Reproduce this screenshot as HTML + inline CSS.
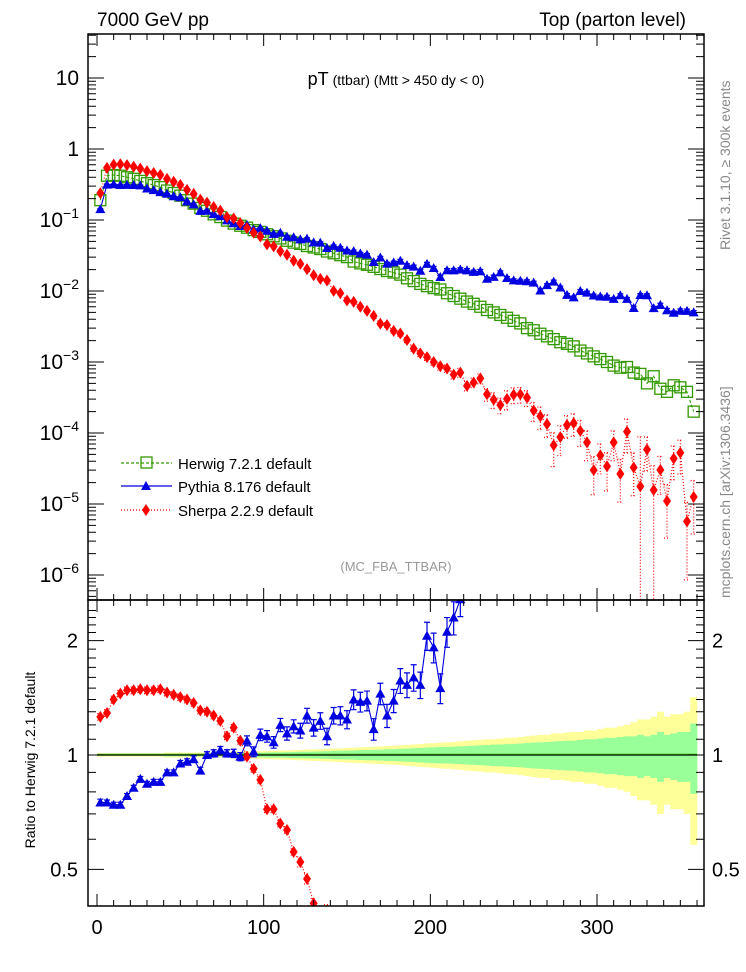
<!DOCTYPE html>
<html><head><meta charset="utf-8">
<style>
html,body{margin:0;padding:0;background:#fff;width:746px;height:972px;overflow:hidden;}
svg{display:block;font-family:"Liberation Sans",Arial,sans-serif;}
</style></head>
<body>
<svg id="chart" width="746" height="972" viewBox="0 0 746 972" xmlns="http://www.w3.org/2000/svg" overflow="hidden">
<defs>
<clipPath id="clipMain"><rect x="88" y="34" width="616" height="566"/></clipPath>
<clipPath id="clipRatio"><rect x="88" y="600" width="616" height="306"/></clipPath>
</defs>
<rect x="0" y="0" width="746" height="972" fill="#fff"/>
<text x="97" y="26" font-size="19">7000 GeV pp</text>
<text x="686" y="26" font-size="19" text-anchor="end">Top (parton level)</text>
<text x="396" y="85" text-anchor="middle"><tspan font-size="18">pT</tspan><tspan font-size="14"> (ttbar) (Mtt &gt; 450 dy &lt; 0)</tspan></text>
<text transform="translate(730,250) rotate(-90)" font-size="14" fill="#888">Rivet 3.1.10, ≥ 300k events</text>
<text transform="translate(730,598) rotate(-90)" font-size="14" fill="#888">mcplots.cern.ch [arXiv:1306.3436]</text>
<text x="396" y="571" font-size="13" fill="#999" text-anchor="middle">(MC_FBA_TTBAR)</text>
<text transform="translate(35,760) rotate(-90)" font-size="14" text-anchor="middle">Ratio to Herwig 7.2.1 default</text>
<g id="bands" clip-path="url(#clipRatio)"></g>
<g id="ratioMarks" clip-path="url(#clipRatio)"></g>
<g id="mainMarks" clip-path="url(#clipMain)"></g>
<g id="axes"></g>
<g id="legend">
  <line x1="121" y1="463" x2="172" y2="463" stroke="#339900" stroke-width="1.2" stroke-dasharray="3,2"/>
  <rect x="141" y="457" width="11" height="11" fill="none" stroke="#339900" stroke-width="1.3"/>
  <text x="178" y="469" font-size="15">Herwig 7.2.1 default</text>
  <line x1="121" y1="486" x2="172" y2="486" stroke="#0000e0" stroke-width="1.2"/>
  <polygon points="146,481 151,490 141,490" fill="#0000e0"/>
  <text x="178" y="492" font-size="15">Pythia 8.176 default</text>
  <line x1="121" y1="510" x2="172" y2="510" stroke="#ff0000" stroke-width="1.2" stroke-dasharray="1,2"/>
  <polygon points="146,504 150,510 146,516 142,510" fill="#ff0000"/>
  <text x="178" y="516" font-size="15">Sherpa 2.2.9 default</text>
</g>
</svg>
<script>
// ---- data ----
const binWidth = 4;
const herwig = [.19,.42,.43,.42,.40,.38,.355,.33,.31,.29,
.26,.24,.22,.19,.17,.148,.135,.12,.11,.098,
.089,.083,.078,.072,.068,.063,.059,.055,.051,.048,
.046,.043,.041,.039,.036,.034,.032,.030,.026,.0245,
.0234,.0219,.0204,.0191,.0182,.0170,.0151,.0138,.0126,.0117,
.0110,.0105,.0093,.0085,.0078,.0071,.0066,.0060,.0054,.0050,
.0046,.0042,.0038,.0035,.0030,.0028,.0025,.0023,.0021,.0019,
.0018,.00166,.00145,.00132,.0012,.0011,.0010,.00089,.00083,.00085,
.00071,.00068,.0005,.00063,.00042,.00038,.00047,.00044,.00038,.0002];
const pythiaRatio = [.75,.75,.74,.74,.78,.82,.865,.84,.85,.85,
.90,.90,.95,.96,.975,.91,1.0,1.01,1.03,1.01,
1.01,.99,1.09,1.02,1.13,1.12,1.08,1.2,1.14,1.19,
1.16,1.27,1.18,1.23,1.12,1.27,1.27,1.24,1.40,1.38,
1.39,1.17,1.45,1.27,1.39,1.57,1.53,1.60,1.53,2.06,
1.92,1.50,2.11,2.3,2.57,2.75,2.82,3.16,2.75,3.16,
3.98,3.63,3.72,3.98,4.57,4.68,4.07,5.25,6.46,5.89,
4.9,4.9,6.9,7.2,7.2,7.6,8.3,8.7,10.5,9.1,
8.1,12.9,17.4,9.1,15.1,14.1,10.5,12.0,13.8,25];
const sherpaRatio = [1.26,1.29,1.40,1.45,1.48,1.48,1.49,1.48,1.48,1.49,
1.46,1.44,1.42,1.40,1.37,1.31,1.30,1.27,1.23,1.12,
1.18,1.09,.99,.92,.86,.72,.72,.66,.635,.556,
.523,.472,.407,.38,.39,.295,.29,.245,.27,.245,
.224,.204,.17,.174,.151,.148,.135,.112,.105,.10,
.091,.083,.087,.078,.091,.065,.078,.098,.065,.059,
.054,.072,.091,.10,.105,.074,.069,.058,.032,.046,
.072,.083,.074,.056,.025,.044,.034,.083,.032,.123,
.046,.026,.117,.025,.072,.029,.093,.12,.015,.063];
const pythiaErr = [.02,.015,.015,.015,.015,.015,.015,.015,.015,.015,
.015,.015,.018,.018,.02,.02,.02,.022,.022,.022,
.025,.025,.03,.03,.035,.035,.035,.04,.04,.04,
.045,.045,.05,.05,.05,.05,.055,.055,.06,.06,
.06,.065,.065,.07,.07,.075,.075,.08,.08,.085,
.09,.09,.09,.1,.1,.1,.1,.1,.1,.1,
.08,.08,.08,.08,.08,.08,.08,.08,.08,.08,
.08,.08,.08,.08,.08,.08,.08,.08,.08,.08,
.1,.08,.08,.1,.1,.1,.1,.1,.1,.1];
const sherpaErr = [.02,.02,.02,.02,.02,.02,.02,.02,.02,.02,
.02,.02,.02,.02,.02,.02,.02,.02,.02,.02,
.02,.02,.02,.02,.02,.02,.02,.02,.02,.02,
.03,.03,.03,.035,.035,.04,.04,.045,.045,.05,
.05,.06,.06,.07,.07,.08,.08,.09,.1,.1,
.1,.12,.12,.13,.14,.15,.15,.16,.2,.25,
.25,.3,.25,.25,.25,.3,.35,.35,.5,.45,
.35,.35,.4,.45,.55,.45,.55,.45,.6,.5,
.6,4,.5,1.2,.55,.7,.5,.5,.85,.7];
const greenBand = [.005,.005,.005,.005,.005,.005,.005,.005,.005,.005,
.008,.008,.008,.008,.008,.008,.008,.008,.008,.008,
.012,.012,.013,.013,.014,.015,.016,.016,.017,.018,
.02,.02,.021,.022,.023,.025,.026,.027,.028,.03,
.031,.032,.033,.035,.036,.038,.04,.042,.044,.046,
.048,.05,.05,.052,.054,.056,.058,.06,.062,.065,
.066,.068,.07,.072,.075,.078,.08,.082,.085,.088,
.09,.09,.095,.1,.1,.105,.11,.11,.115,.12,
.12,.13,.12,.13,.15,.13,.14,.15,.15,.21];
const yellowBand = [.01,.01,.01,.01,.01,.01,.01,.01,.01,.01,
.015,.015,.015,.015,.015,.015,.015,.015,.015,.015,
.02,.02,.022,.022,.024,.025,.026,.027,.028,.03,
.032,.033,.035,.036,.038,.04,.042,.044,.046,.048,
.05,.052,.054,.056,.058,.06,.063,.066,.069,.072,
.075,.078,.08,.083,.086,.09,.093,.096,.1,.1,
.105,.11,.11,.115,.12,.125,.13,.13,.14,.14,
.145,.15,.15,.16,.16,.17,.18,.18,.19,.2,
.22,.24,.24,.26,.3,.26,.28,.28,.3,.42];
const xTickLabels = ["0","100","200","300"];
const mainTickExps = [1,0,-1,-2,-3,-4,-5,-6];
const ratioTickLabels = ["0.5","1","2"];

// ---- axes functions ----
const NS = "http://www.w3.org/2000/svg";
const L = 88, R = 704, TOP = 34, MID = 600, BOT = 906;
const X = p => 97 + p * 1.6667;
const Ym = v => 149 - 71 * Math.log10(v);
const Yr = r => 755 - 380 * Math.log10(r);
const clampY = (y, lo, hi) => Math.min(hi, Math.max(lo, y));
function el(tag, attrs, parent) {
  const e = document.createElementNS(NS, tag);
  for (const k in attrs) e.setAttribute(k, attrs[k]);
  parent.appendChild(e);
  return e;
}
const centers = herwig.map((_, i) => binWidth * i + binWidth / 2);
const pythia = herwig.map((h, i) => h * pythiaRatio[i]);
const sherpa = herwig.map((h, i) => h * sherpaRatio[i]);

const gB = document.getElementById('bands');
const gR = document.getElementById('ratioMarks');
const gM = document.getElementById('mainMarks');
const gA = document.getElementById('axes');

// bands
centers.forEach((c, i) => {
  const y = el('rect', {x: X(c - 2), y: Yr(1 + yellowBand[i]), width: X(c + 2) - X(c - 2) + 0.3, height: Yr(1 - yellowBand[i]) - Yr(1 + yellowBand[i]), fill: '#ffff99'}, gB);
  
  
});
centers.forEach((c, i) => {
  const g = el('rect', {x: X(c - 2), y: Yr(1 + greenBand[i]), width: X(c + 2) - X(c - 2) + 0.3, height: Yr(1 - greenBand[i]) - Yr(1 + greenBand[i]), fill: '#99ff99'}, gB);
  
  
});
const refLine = el('line', {x1: X(0), y1: Yr(1), x2: X(centers[centers.length - 1] + 2), y2: Yr(1), stroke: '#000', 'stroke-width': 1.2}, gB);


const refGreen = el('line', {x1: X(0), y1: Yr(1) - 0.8, x2: X(centers[centers.length - 1] + 2), y2: Yr(1) - 0.8, stroke: '#339900', 'stroke-width': 0.8}, gB);



function tri(cx, cy, g) {
  return el('polygon', {points: `${cx},${cy - 5} ${cx + 5},${cy + 4} ${cx - 5},${cy + 4}`, fill: '#0000e0'}, g);
}
function dia(cx, cy, g) {
  return el('polygon', {points: `${cx},${cy - 6} ${cx + 4},${cy} ${cx},${cy + 6} ${cx - 4},${cy}`, fill: '#ff0000'}, g);
}
function errBar(x, y1, y2, color, dash, g, lo, hi) {
  const a = clampY(y1, lo, hi), b = clampY(y2, lo, hi);
  const e = el('path', {d: `M${x},${a}V${b}M${x - 3},${a}H${x + 3}M${x - 3},${b}H${x + 3}`, stroke: color, 'stroke-width': 1.2, fill: 'none'}, g);
  if (dash) e.setAttribute('stroke-dasharray', '1,2');
  return e;
}
const clampPts = (arr, f, lo, hi) => centers.map((c, i) => `${X(c)},${clampY(f(arr[i]), lo - 400, hi + 400)}`).join(' ');

// ratio lines
const pyRatioLine = el('polyline', {points: centers.map((c, i) => `${X(c)},${Math.max(Yr(pythiaRatio[i]), MID - 300)}`).join(' '), fill: 'none', stroke: '#0000e0', 'stroke-width': 1.1}, gR);


const shRatioLine = el('polyline', {points: centers.map((c, i) => `${X(c)},${Math.min(Yr(sherpaRatio[i]), BOT + 60)}`).join(' '), fill: 'none', stroke: '#ff0000', 'stroke-width': 1.2, 'stroke-dasharray': '1,2'}, gR);


centers.forEach((c, i) => {
  const r = pythiaRatio[i], e = pythiaErr[i];
  if (Yr(r) > MID - 10 && Yr(r) < BOT + 10) {
    const eb = errBar(X(c), Yr(r * (1 + e)), Yr(r * (1 - e)), '#0000e0', false, gR, MID, BOT);
    
    
    const m = tri(X(c), Yr(r), gR);
    
    
  }
  const s = sherpaRatio[i], se = sherpaErr[i];
  if (Yr(s) > MID - 10 && Yr(s) < BOT + 10) {
    const eb2 = errBar(X(c), Yr(s * (1 + se)), Yr(Math.max(s * (1 - se), 1e-3)), '#ff0000', true, gR, MID, BOT);
    
    
    const d = dia(X(c), Yr(s), gR);
    
    
  }
});

// main plot
const hwLine = el('polyline', {points: centers.map((c, i) => `${X(c)},${Ym(herwig[i])}`).join(' '), fill: 'none', stroke: '#339900', 'stroke-width': 1.1, 'stroke-dasharray': '3,2'}, gM);


const pyLine = el('polyline', {points: centers.map((c, i) => `${X(c)},${Ym(pythia[i])}`).join(' '), fill: 'none', stroke: '#0000e0', 'stroke-width': 1.1}, gM);


const shLine = el('polyline', {points: centers.map((c, i) => `${X(c)},${Math.min(Ym(sherpa[i]), MID)}`).join(' '), fill: 'none', stroke: '#ff0000', 'stroke-width': 1.2, 'stroke-dasharray': '1,2'}, gM);


centers.forEach((c, i) => {
  const sq = el('rect', {x: X(c) - 5.5, y: Ym(herwig[i]) - 5.5, width: 11, height: 11, fill: 'none', stroke: '#339900', 'stroke-width': 1.3}, gM);
  
  
});
centers.forEach((c, i) => {
  const eb = errBar(X(c), Ym(pythia[i] * (1 + pythiaErr[i] * 0.6)), Ym(pythia[i] * (1 - pythiaErr[i] * 0.6)), '#0000e0', false, gM, TOP, MID);
  
  
  const m = tri(X(c), Ym(pythia[i]), gM);
  
  
});
centers.forEach((c, i) => {
  const v = sherpa[i], e = sherpaErr[i];
  const eb = errBar(X(c), Ym(v * (1 + e)), Ym(Math.max(v * (1 - e), 1e-9)), '#ff0000', true, gM, TOP, MID);
  
  
  const d = dia(X(c), Ym(v), gM);
  
  
});

// frames
const f1 = el('rect', {x: L, y: TOP, width: R - L, height: MID - TOP, fill: 'none', stroke: '#000', 'stroke-width': 1.5}, gA);


const f2 = el('rect', {x: L, y: MID, width: R - L, height: BOT - MID, fill: 'none', stroke: '#000', 'stroke-width': 1.5}, gA);



// x ticks
let d = '';
for (let p = 0; p <= 360; p += 10) {
  const len = p % 100 === 0 ? 12 : 6;
  const x = X(p);
  d += `M${x},${MID}v${-len}M${x},${TOP}v${len}M${x},${BOT}v${-len}M${x},${MID}v${len}`;
}
const xt = el('path', {d: d, stroke: '#000', 'stroke-width': 1, fill: 'none'}, gA);


xTickLabels.forEach(t => {
  const tx = el('text', {x: X(+t), y: 934, 'font-size': 20, 'text-anchor': 'middle'}, gA);
  tx.textContent = t;
  
  
});

// main y ticks
d = '';
for (let e = -7; e <= 1; e++) {
  for (let m = 1; m <= 9; m++) {
    const y = Ym(m * Math.pow(10, e));
    if (y < TOP || y > MID) continue;
    const len = m === 1 ? 16 : 8;
    d += `M${L},${y}h${len}M${R},${y}h${-len}`;
  }
}
const yt = el('path', {d: d, stroke: '#000', 'stroke-width': 1, fill: 'none'}, gA);


mainTickExps.forEach(e => {
  const y = Ym(Math.pow(10, e));
  const tx = el('text', {x: 79, y: y + 7, 'font-size': 21, 'text-anchor': 'end'}, gA);
  if (e === 1) tx.textContent = '10';
  else if (e === 0) tx.textContent = '1';
  else {
    tx.textContent = '10';
    const sup = el('tspan', {dy: -9, 'font-size': 14}, tx);
    sup.textContent = '\u2212' + (-e);
  }
  
  
});

// ratio y ticks
d = '';
for (let r = 0.4; r <= 2.5; r += 0.1) {
  const rr = Math.round(r * 10) / 10;
  const y = Yr(rr);
  if (y < MID || y > BOT) continue;
  const len = (rr === 0.5 || rr === 1 || rr === 2) ? 16 : 8;
  d += `M${L},${y}h${len}M${R},${y}h${-len}`;
}
const rt = el('path', {d: d, stroke: '#000', 'stroke-width': 1, fill: 'none'}, gA);


ratioTickLabels.forEach(t => {
  const y = Yr(+t);
  const a = el('text', {x: 78, y: y + 7, 'font-size': 20, 'text-anchor': 'end'}, gA);
  a.textContent = t;
  
  
  const b = el('text', {x: 712, y: y + 7, 'font-size': 20}, gA);
  b.textContent = t;
  
  
});
</script>
</body></html>
